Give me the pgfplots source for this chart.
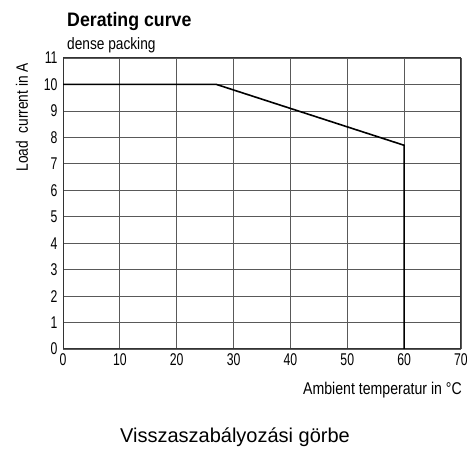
\documentclass[border=0pt]{standalone}
\usepackage{fontspec}
\setmainfont[FakeStretch=0.83]{Liberation Sans}
\newfontfamily\capfont{Liberation Sans}
\newfontfamily\titlefont[FakeStretch=0.91]{Liberation Sans}
\newfontfamily\tickfont[FakeStretch=0.72]{Liberation Sans}
\usepackage{pgfplots}
\pgfplotsset{compat=1.18}
\begin{document}
\begin{tikzpicture}[x=1pt,y=1pt]
\useasboundingbox (0,0) rectangle (467,452);
\begin{axis}[at={(63pt,103pt)}, anchor=south west, scale only axis,
  width=398pt, height=291pt,
  xmin=0, xmax=70, ymin=0, ymax=11,
  xtick={0,10,...,70}, ytick={0,1,...,11},
  grid=major, major grid style={black!65, line width=0.8pt},
  axis line style={black!80, line width=1pt},
  major tick length=0pt,
  tick label style={font=\tickfont\fontsize{17}{19}\selectfont},
  xticklabel style={yshift=-1pt},
  yticklabel style={xshift=-2pt},
  /pgf/number format/assume math mode=true]
\addplot[black, line width=1.6pt] coordinates {(0,10) (27,10) (60,7.7) (60,0)};
\end{axis}
\node[anchor=base west, inner sep=0pt, font=\titlefont\fontsize{19.5}{22}\selectfont\bfseries] at (67,425) {Derating curve};
\node[anchor=base west, inner sep=0pt, font=\fontsize{16.5}{19}\selectfont] at (67,402) {dense packing};
\node[rotate=90, anchor=east, inner sep=0pt, font=\fontsize{16.5}{19}\selectfont] at (22,389) {Load\ \ current in A};
\node[anchor=base east, inner sep=0pt, font=\fontsize{17}{19}\selectfont] at (462,57) {Ambient temperatur in °C};
\node[anchor=base, inner sep=0pt, font=\capfont\fontsize{20}{24}\selectfont] at (235,9) {Visszaszabályozási görbe};
\end{tikzpicture}
\end{document}
